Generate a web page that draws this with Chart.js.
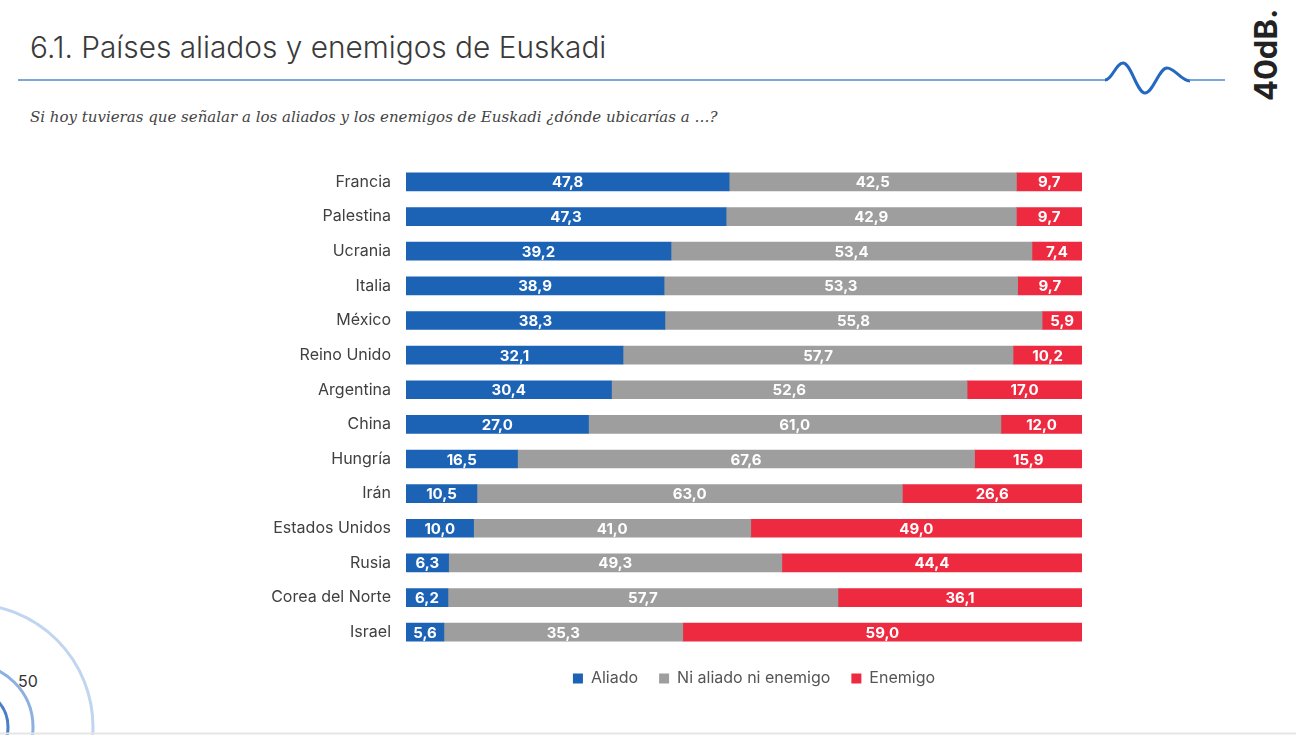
<!DOCTYPE html>
<html>
<head>
<meta charset="utf-8">
<title>Países aliados y enemigos de Euskadi</title>
<script src="https://cdn.jsdelivr.net/npm/chart.js@4"></script>
<style>
  body { margin: 0; background: #fff; }
  #wrap { position: relative; width: 1296px; height: 735px; overflow: hidden; font-family: Inter, sans-serif; }
  #deco { position: absolute; left: 0; top: 0; }
  #chart { position: absolute; left: 0; top: 140px; }
</style>
</head>
<body>
<div id="wrap">
  <svg id="deco" width="1296" height="735">
    <text x="30" y="58" font-family="Inter" font-size="29.8" font-weight="300" fill="#3a3a3a">6.1. Países aliados y enemigos de Euskadi</text>
    <line x1="18" y1="80" x2="1106" y2="80" stroke="#4f8ad0" stroke-width="1.6"/>
    <path d="M1105,80 C1112,80 1116,63 1123,63 C1131,63 1137,93 1145,93 C1153,93 1159,68 1167,68 C1175,68 1181,81 1190,81" fill="none" stroke="#2468c2" stroke-width="3"/>
    <line x1="1189" y1="80" x2="1225" y2="80" stroke="#4f8ad0" stroke-width="1.6"/>
    <text transform="translate(1277,101) rotate(-90)" font-family="Inter" font-size="31" font-weight="700" fill="#222">40dB.</text>
    <text x="30" y="122" font-family="DejaVu Serif" font-style="italic" font-size="15" fill="#444">Si hoy tuvieras que señalar a los aliados y los enemigos de Euskadi ¿dónde ubicarías a …?</text>
    <circle cx="-30" cy="727" r="123" fill="none" stroke="#c0d5ef" stroke-width="3"/>
    <circle cx="-30" cy="727" r="63" fill="none" stroke="#8cb0df" stroke-width="3"/>
    <circle cx="-30" cy="727" r="38" fill="none" stroke="#4a7fc8" stroke-width="3"/>
    <text x="18" y="687" font-family="Inter" font-size="16" fill="#333">50</text>
    <line x1="0" y1="733.5" x2="1296" y2="733.5" stroke="#e6e6e6" stroke-width="2"/>
  </svg>
  <canvas id="chart" width="1296" height="560"></canvas>
</div>
<script>
const categories = ['Francia', 'Palestina', 'Ucrania', 'Italia', 'México', 'Reino Unido', 'Argentina',
    'China', 'Hungría', 'Irán', 'Estados Unidos', 'Rusia', 'Corea del Norte', 'Israel'];
const aliado = [47.8, 47.3, 39.2, 38.9, 38.3, 32.1, 30.4, 27.0, 16.5, 10.5, 10.0, 6.3, 6.2, 5.6];
const niAliadoNiEnemigo = [42.5, 42.9, 53.4, 53.3, 55.8, 57.7, 52.6, 61.0, 67.6, 63.0, 41.0, 49.3, 57.7, 35.3];
const enemigo = [9.7, 9.7, 7.4, 9.7, 5.9, 10.2, 17.0, 12.0, 15.9, 26.6, 49.0, 44.4, 36.1, 59.0];
const seriesNames = ['Aliado', 'Ni aliado ni enemigo', 'Enemigo'];

// the original bars are 100% stacked, so each row is scaled to its own total
const totals = categories.map((c, i) => aliado[i] + niAliadoNiEnemigo[i] + enemigo[i]);
const share = arr => arr.map((v, i) => v / totals[i] * 100);

const valueLabels = {
    id: 'valueLabels',
    afterDatasetsDraw(chart) {
        const ctx = chart.ctx;
        ctx.save();
        ctx.font = 'bold 15px Inter';
        ctx.fillStyle = '#fff';
        ctx.textAlign = 'center';
        ctx.textBaseline = 'middle';
        chart.data.datasets.forEach((ds, d) => {
            chart.getDatasetMeta(d).data.forEach((bar, i) => {
                const txt = ds.raw[i].toFixed(1).replace('.', ',');
                ctx.fillText(txt, (bar.x + bar.base) / 2, bar.y + 1);
            });
        });
        ctx.restore();
    }
};

// move the legend under the bars, like in the slide
const legendShift = {
    id: 'legendShift',
    afterLayout(chart) {
        chart.legend.left += 213;
        chart.legend.right += 213;
    }
};

Chart.defaults.font.family = 'Inter';

new Chart(document.getElementById('chart'), {
    type: 'bar',
    data: {
        labels: categories,
        datasets: [
            { label: seriesNames[0], data: share(aliado), raw: aliado, backgroundColor: '#1c63b6' },
            { label: seriesNames[1], data: share(niAliadoNiEnemigo), raw: niAliadoNiEnemigo, backgroundColor: '#9e9e9e' },
            { label: seriesNames[2], data: share(enemigo), raw: enemigo, backgroundColor: '#ee2a40' }
        ]
    },
    options: {
        indexAxis: 'y',
        responsive: false,
        animation: false,
        barThickness: 18,
        layout: { padding: { top: 4, left: 0, right: 214, bottom: 3.5 } },
        scales: {
            x: { stacked: true, min: 0, max: 100, display: false },
            y: {
                stacked: true,
                grid: { display: false, drawTicks: false },
                border: { display: false },
                ticks: { color: '#404040', font: { size: 16 }, padding: 15 },
                afterFit: scale => { scale.width = 406; }
            }
        },
        plugins: {
            legend: {
                position: 'bottom',
                labels: { boxWidth: 10, boxHeight: 10, padding: 21, color: '#555', font: { size: 16 } }
            },
            tooltip: { enabled: false }
        }
    },
    plugins: [valueLabels, legendShift]
});
</script>
</body>
</html>
